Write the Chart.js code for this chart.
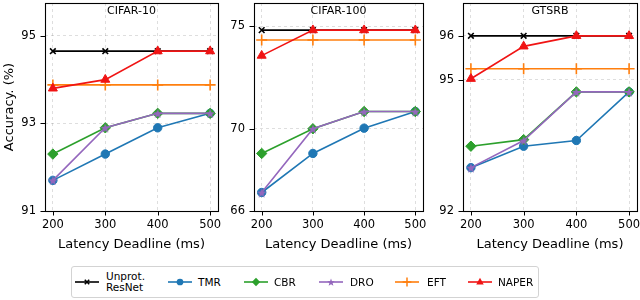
<!DOCTYPE html>
<html><head><meta charset="utf-8">
<script src="https://cdn.jsdelivr.net/npm/chart.js@4/dist/chart.umd.min.js"></script>
<style>
body{margin:0;width:640px;height:300px;background:#fff;position:relative;overflow:hidden;font-family:"DejaVu Sans",sans-serif;}
canvas.c{position:absolute;top:0;}
#legend{position:absolute;left:71px;top:266px;width:468px;height:32px;border:1px solid #d3d3d3;border-radius:3px;box-sizing:border-box;background:#fff;}
.lg{position:absolute;}
.lt{position:absolute;font-size:10.5px;color:#000;line-height:11px;white-space:nowrap;}
</style></head>
<body>
<canvas id="c1" class="c" width="222" height="262" style="left:0px"></canvas>
<canvas id="c2" class="c" width="214" height="262" style="left:214px"></canvas>
<canvas id="c3" class="c" width="217" height="262" style="left:423px"></canvas>
<div id="legend"></div>
<script>
// ---- data ----
const latency = [200, 300, 400, 500];
const seriesNames = ['Unprot.\nResNet', 'TMR', 'CBR', 'DRO', 'EFT', 'NAPER'];

const cifar10Unprot = [94.65, 94.65, 94.65, 94.65];
const cifar10TMR    = [91.7, 92.3, 92.9, 93.23];
const cifar10CBR    = [92.3, 92.9, 93.23, 93.23];
const cifar10DRO    = [91.7, 92.9, 93.23, 93.23];
const cifar10EFT    = [93.88, 93.88, 93.88, 93.88];
const cifar10NAPER  = [93.8, 94.0, 94.65, 94.65];
const cifar10Ticks  = [91, 93, 95];

const cifar100Unprot = [74.8, 74.8, 74.8, 74.8];
const cifar100TMR    = [66.9, 68.8, 70.03, 70.84];
const cifar100CBR    = [68.8, 70.0, 70.84, 70.84];
const cifar100DRO    = [66.9, 70.0, 70.84, 70.84];
const cifar100EFT    = [74.32, 74.32, 74.32, 74.32];
const cifar100NAPER  = [73.56, 74.8, 74.8, 74.8];
const cifar100Ticks  = [66, 70, 75];

const gtsrbUnprot = [96.0, 96.0, 96.0, 96.0];
const gtsrbTMR    = [92.99, 93.48, 93.61, 94.72];
const gtsrbCBR    = [93.48, 93.63, 94.72, 94.72];
const gtsrbDRO    = [92.99, 93.61, 94.72, 94.72];
const gtsrbEFT    = [95.25, 95.25, 95.25, 95.25];
const gtsrbNAPER  = [95.02, 95.76, 96.0, 96.0];
const gtsrbTicks  = [92, 95, 96];

// ---- styles ----
const colors = ['#000000', '#1f77b4', '#2ca02c', '#9467bd', '#ff7f0e', '#f01414'];
function starImg(color, size){
  const c=document.createElement('canvas');c.width=c.height=size;
  const g=c.getContext('2d');g.fillStyle=color;g.beginPath();
  for(let i=0;i<10;i++){const r=i%2?size*0.21:size*0.5;const a=-Math.PI/2+i*Math.PI/5;
    g.lineTo(size/2+r*Math.cos(a),size/2+0.6+r*Math.sin(a));}
  g.closePath();g.fill();return c;
}
const dro = starImg(colors[3], 10);
const pointStyles = ['crossRot','circle','rectRot',dro,'cross','triangle'];
const pointRadii = [4, 4.2, 5.2, 5, 5.5, 5.2];

function makeDatasets(series){
  return series.map((vals,i)=>({
    label: seriesNames[i],
    data: latency.map((x,j)=>({x:x,y:vals[j]})),
    borderColor: colors[i], backgroundColor: colors[i],
    borderWidth: 1.6,
    pointStyle: pointStyles[i], pointRadius: pointRadii[i],
    pointBorderWidth: (i===0||i===4)?1.6:1,
    pointHoverRadius: pointRadii[i],
    order: 5-i, clip: false, tension: 0
  }));
}

const frame = {
  id:'frame',
  afterDraw(chart){
    const {ctx, chartArea:a, scales} = chart;
    ctx.save();
    ctx.strokeStyle='#000'; ctx.lineWidth=1;
    ctx.beginPath();
    scales.x.ticks.forEach(t=>{const x=Math.round(scales.x.getPixelForValue(t.value))+0.5;ctx.moveTo(x,a.bottom);ctx.lineTo(x,a.bottom+4.5);});
    scales.y.ticks.forEach(t=>{const y=Math.round(scales.y.getPixelForValue(t.value))+0.5;ctx.moveTo(a.left,y);ctx.lineTo(a.left-4.5,y);});
    ctx.stroke();
    ctx.lineWidth=1.1;
    ctx.strokeRect(Math.round(a.left)+0.5, Math.round(a.top)+0.5, Math.round(a.right-a.left), Math.round(a.bottom-a.top));
    ctx.fillStyle='#000'; ctx.font='11px "DejaVu Sans"'; ctx.textAlign='center'; ctx.textBaseline='middle';
    ctx.fillText(chart.options.plugins.frame.title,(a.left+a.right)/2,a.top+8.5);
    ctx.restore();
  }
};

function makeChart(id, title, series, ticks, ymin, ymax, yWidth, padRight, showYTitle){
  return new Chart(document.getElementById(id), {
    type:'line',
    data:{datasets: makeDatasets(series)},
    plugins:[frame],
    options:{
      responsive:false, animation:false, devicePixelRatio:1,
      layout:{autoPadding:false, padding:{top:3,right:padRight,left:0,bottom:0}},
      plugins:{legend:{display:false}, tooltip:{enabled:false}, frame:{title:title}},
      scales:{
        x:{type:'linear', min:185, max:515,
          afterBuildTicks:s=>{s.ticks=latency.map(v=>({value:v}));},
          afterFit:s=>{s.height=51;s.paddingLeft=0;s.paddingRight=0;},
          grid:{color:'rgba(0,0,0,0.13)', lineWidth:1, drawTicks:false},
          border:{display:false, dash:[3,3]},
          ticks:{color:'#000', font:{family:'DejaVu Sans', size:11.5}, padding:7, maxRotation:0},
          title:{display:true, text:'Latency Deadline (ms)', color:'#000', font:{family:'DejaVu Sans', size:13}, padding:{top:0,bottom:10}}
        },
        y:{type:'linear', min:ymin, max:ymax,
          afterBuildTicks:s=>{s.ticks=ticks.map(v=>({value:v}));},
          afterFit:s=>{s.width=yWidth;s.paddingTop=0;s.paddingBottom=0;},
          grid:{color:'rgba(0,0,0,0.13)', lineWidth:1, drawTicks:false},
          border:{display:false, dash:[3,3]},
          ticks:{color:'#000', font:{family:'DejaVu Sans', size:11.5}, padding:9},
          title:{display:showYTitle, text:'Accuracy. (%)', color:'#000', font:{family:'DejaVu Sans', size:13}, padding:{top:2,bottom:0}}
        }
      }
    }
  });
}

makeChart('c1','CIFAR-10',[cifar10Unprot,cifar10TMR,cifar10CBR,cifar10DRO,cifar10EFT,cifar10NAPER],cifar10Ticks,91,95.75,45,4,true);
makeChart('c2','CIFAR-100',[cifar100Unprot,cifar100TMR,cifar100CBR,cifar100DRO,cifar100EFT,cifar100NAPER],cifar100Ticks,66,76.12,40,5,false);
makeChart('c3','GTSRB',[gtsrbUnprot,gtsrbTMR,gtsrbCBR,gtsrbDRO,gtsrbEFT,gtsrbNAPER],gtsrbTicks,92,96.75,40,3,false);

// ---- legend ----
const legend=document.getElementById('legend');
const lineStarts=[74,167,243,318,394,467];
const textStarts=[106,198,274,350,427,498];
function drawMarker(g,i,x,y){
  const c=colors[i]; g.fillStyle=c; g.strokeStyle=c; g.lineWidth=1.5;
  const r=pointRadii[i]*0.8;
  g.beginPath();
  if(i===0){g.moveTo(x-r*0.7,y-r*0.7);g.lineTo(x+r*0.7,y+r*0.7);g.moveTo(x+r*0.7,y-r*0.7);g.lineTo(x-r*0.7,y+r*0.7);g.stroke();}
  else if(i===1){g.arc(x,y,r,0,Math.PI*2);g.fill();}
  else if(i===2){g.moveTo(x,y-r);g.lineTo(x+r,y);g.lineTo(x,y+r);g.lineTo(x-r,y);g.closePath();g.fill();}
  else if(i===3){g.drawImage(starImg(c,8),x-4,y-4);}
  else if(i===4){g.moveTo(x,y-r);g.lineTo(x,y+r);g.moveTo(x-r,y);g.lineTo(x+r,y);g.stroke();}
  else {g.moveTo(x,y-r);g.lineTo(x+r*0.9,y+r*0.6);g.lineTo(x-r*0.9,y+r*0.6);g.closePath();g.fill();}
}
seriesNames.forEach((n,i)=>{
  const cv=document.createElement('canvas');cv.width=28;cv.height=14;cv.className='lg';
  cv.style.left=(lineStarts[i]-71-2)+'px';cv.style.top=(282-266-7-1)+'px';
  legend.appendChild(cv);
  const g=cv.getContext('2d');
  g.strokeStyle=colors[i];g.lineWidth=1.6;g.beginPath();g.moveTo(2,7);g.lineTo(26,7);g.stroke();
  drawMarker(g,i,14,7);
  const t=document.createElement('div');t.className='lt';
  t.style.left=(textStarts[i]-71-1)+'px';
  const lines=n.split('\n');
  t.innerHTML=lines.join('<br>');
  t.style.top=(lines.length>1? (282-266-1-11): (282-266-1-5.5))+'px';
  legend.appendChild(t);
});
</script>
</body></html>
